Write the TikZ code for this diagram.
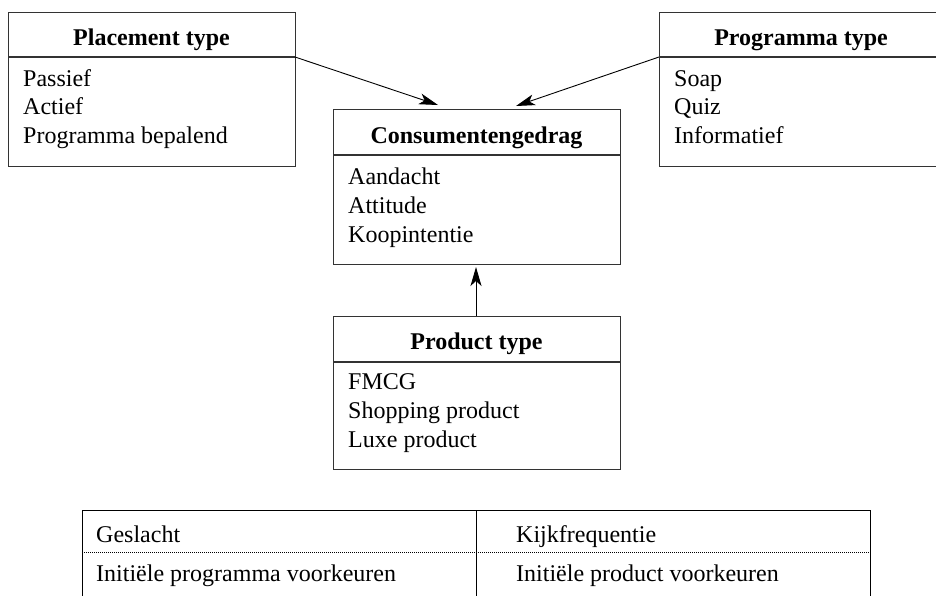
\documentclass[tikz,border=0pt]{standalone}
\usepackage{fontspec}
\setmainfont{Liberation Serif}
\usetikzlibrary{arrows.meta}
\begin{document}
\begin{tikzpicture}[x=1pt,y=-1pt,
  boxline/.style={draw=black!80, line width=1.1pt},
  umlbox/.style={boxline, rectangle, inner sep=0pt, anchor=north west, minimum width=287pt},
  ttl/.style={anchor=base, font=\fontsize{24}{29}\selectfont\bfseries, inner sep=0pt},
  itm/.style={anchor=base west, font=\fontsize{24}{29}\selectfont, inner sep=0pt},
  arr/.style={line width=0.9pt, -{Stealth[length=19pt,width=11pt,inset=5pt]}},
  tabline/.style={draw=black, line width=1pt},
  tabdots/.style={draw=black, line width=0.8pt, dash pattern=on 1pt off 1pt}]
\useasboundingbox (0,0) rectangle (936,595);
\fill[white] (0,0) rectangle (936,595);

% Placement type
\node[umlbox, minimum height=154pt] (place) at (8,12) {};
\coordinate (placeL) at (8,57);
\coordinate (placeR) at (295,57);
\draw[boxline] (placeL) -- (placeR);
\node[ttl] (placeT) at (151.5,45) {Placement type};
\node[itm] (p1) at (23,86) {Passief};
\node[itm] (p2) at (23,114.5) {Actief};
\node[itm] (p3) at (23,143) {Programma bepalend};

% Programma type
\node[umlbox, minimum width=284pt, minimum height=154pt] (prog) at (659,12) {};
\coordinate (progL) at (659,57);
\coordinate (progR) at (943,57);
\draw[boxline] (progL) -- (progR);
\node[ttl] (progT) at (801,45) {Programma type};
\node[itm] (g1) at (674,86) {Soap};
\node[itm] (g2) at (674,114.5) {Quiz};
\node[itm] (g3) at (674,143) {Informatief};

% Consumentengedrag
\node[umlbox, minimum height=155pt] (cons) at (333,109) {};
\coordinate (consDL) at (333,155);
\coordinate (consDR) at (620,155);
\draw[boxline] (consDL) -- (consDR);
\node[ttl] (consT) at (476.5,143) {Consumentengedrag};
\node[itm] (c1) at (348,184) {Aandacht};
\node[itm] (c2) at (348,213) {Attitude};
\node[itm] (c3) at (348,242) {Koopintentie};

% Product type
\node[umlbox, minimum height=153pt] (prod) at (333,316) {};
\coordinate (prodDL) at (333,362);
\coordinate (prodDR) at (620,362);
\draw[boxline] (prodDL) -- (prodDR);
\node[ttl] (prodT) at (476.5,349) {Product type};
\node[itm] (r1) at (348,389) {FMCG};
\node[itm] (r2) at (348,418) {Shopping product};
\node[itm] (r3) at (348,447) {Luxe product};

% arrows
\coordinate (consInL) at (438,105);
\coordinate (consInR) at (516,106);
\coordinate (prodOut) at (476,316);
\coordinate (consInB) at (476,267);
\draw[arr] (placeR) -- (consInL);
\draw[arr] (progL) -- (consInR);
\draw[arr] (prodOut) -- (consInB);

% table
\coordinate (tTL) at (82,510);
\coordinate (tTM) at (476,510);
\coordinate (tTR) at (870,510);
\coordinate (tBL) at (82,600);
\coordinate (tBM) at (476,600);
\coordinate (tBR) at (870,600);
\coordinate (tDL) at (82,552);
\coordinate (tDR) at (870,552);
\draw[tabline] (tTL) -- (tTR);
\draw[tabline] (tTL) -- (tBL);
\draw[tabline] (tTM) -- (tBM);
\draw[tabline] (tTR) -- (tBR);
\draw[tabdots] (tDL) -- (tDR);
\node[itm] (t1) at (96,542) {Geslacht};
\node[itm] (t2) at (516,542) {Kijkfrequentie};
\node[itm] (t3) at (96,581) {Initiële programma voorkeuren};
\node[itm] (t4) at (516,581) {Initiële product voorkeuren};
\end{tikzpicture}
\end{document}
